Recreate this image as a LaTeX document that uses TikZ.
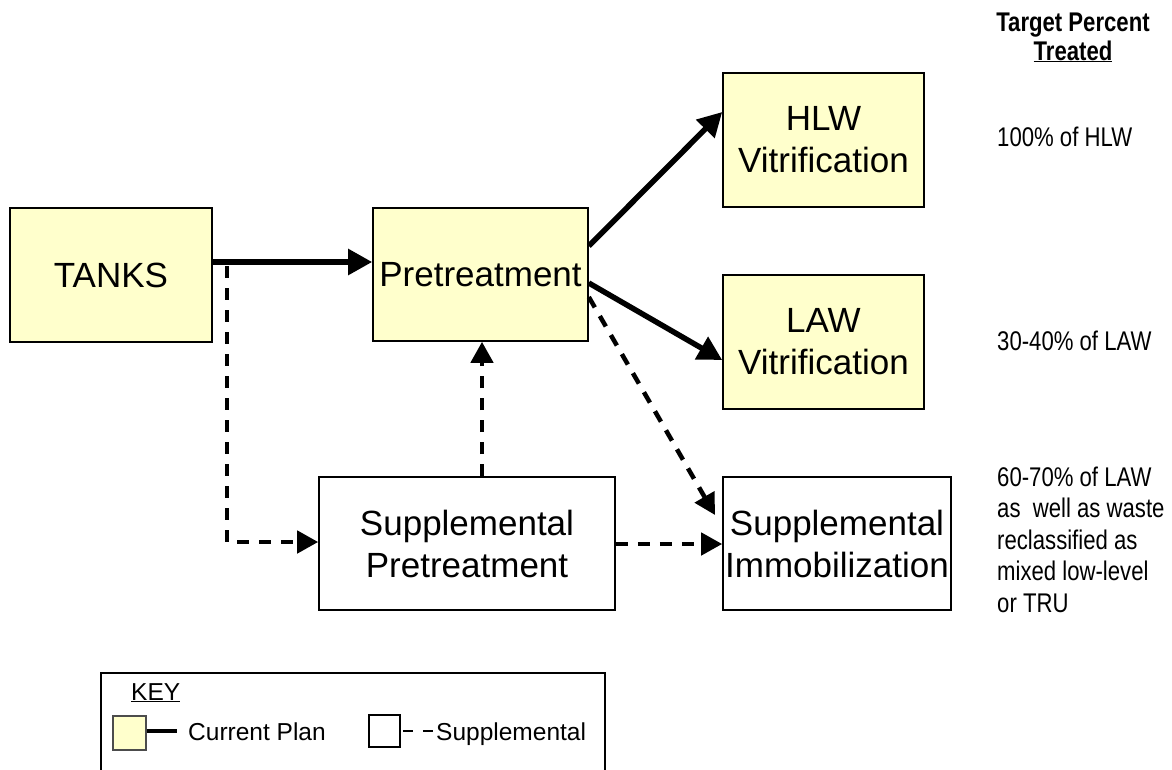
\documentclass[tikz,border=0pt]{standalone}
\usepackage{fontspec}
\setmainfont{Liberation Sans}
\newfontfamily\narrowfont[FakeStretch=0.82]{Liberation Sans}
\usetikzlibrary{arrows.meta}
\definecolor{boxyellow}{RGB}{255,255,204}
\begin{document}
\begin{tikzpicture}[x=1pt,y=-1pt,
  box/.style={draw=black,line width=1.6pt,inner sep=0pt,align=center,font=\fontsize{35}{42}\selectfont},
  planbox/.style={box,fill=boxyellow},
  suppbox/.style={box,fill=white},
  solidarrow/.style={line width=5.5pt,-{Triangle[length=24pt,width=25pt]}},
  dasharrow/.style={line width=4.5pt,dash pattern=on 12pt off 10pt,-{Triangle[length=21pt,width=22pt]}},
  note/.style={anchor=base west,inner sep=0pt,align=left,font=\narrowfont\fontsize{27}{31.5}\selectfont},
  titletext/.style={anchor=base,inner sep=0pt,font=\narrowfont\bfseries\fontsize{27}{31}\selectfont},
  keytext/.style={anchor=base west,inner sep=0pt,font=\fontsize{24.5}{28}\selectfont}
]
\useasboundingbox (0,0) rectangle (1172,769);

% boxes
\node[planbox,minimum width=202pt,minimum height=134pt] (tanks) at (111,275) {TANKS};
\node[planbox,minimum width=215pt,minimum height=133pt] (pre) at (480.5,274.5) {Pretreatment};
\node[planbox,minimum width=201pt,minimum height=134pt] (hlw) at (823.5,140) {HLW\\Vitrification};
\node[planbox,minimum width=201pt,minimum height=134pt] (law) at (823.5,342) {LAW\\Vitrification};
\node[suppbox,minimum width=296pt,minimum height=133pt] (supppre) at (467,543.5) {Supplemental\\Pretreatment};
\node[suppbox,minimum width=228pt,minimum height=133pt] (suppimm) at (837,543.5) {Supplemental\\Immobilization};

% connectors
\coordinate (branch) at (227,266);
\coordinate (immtip) at (715,515);
\draw[solidarrow] (tanks.east |- 0,262) -- (pre.west |- 0,262);
\draw[dasharrow] (branch) -- (227,542) -- (supppre.west |- 0,542);
\draw[solidarrow] (pre.east |- 0,246) -- (hlw.west |- 0,112);
\draw[solidarrow] (pre.east |- 0,283) -- (law.west |- 0,360);
\draw[dasharrow] (pre.east |- 0,297) -- (immtip);
\draw[dasharrow] (supppre.north -| 482,0) -- (pre.south -| 482,0);
\draw[dasharrow] (supppre.east |- 0,544) -- (suppimm.west |- 0,544);

% right-hand notes
\node[titletext] (title1) at (1073,31) {Target Percent};
\node[titletext] (title2) at (1073,60) {\underline{Treated}};
\node[note] (n1) at (997,146) {100\% of HLW};
\node[note] (n2) at (997,350) {30-40\% of LAW};
\node[note] (n3) at (997,612) {60-70\% of LAW\\as\ \ well as waste\\reclassified as\\mixed low-level\\or TRU};

% key
\begin{scope}
\clip (0,0) rectangle (1172,769);
\draw[line width=1.5pt] (101,673) rectangle (605,800);
\end{scope}
\node[keytext] (keytitle) at (131,700) {\underline{KEY}};
\node[draw=black!70,line width=1.2pt,fill=boxyellow,minimum width=33pt,minimum height=34pt,inner sep=0pt] (keyplan) at (129.5,733) {};
\coordinate (keyplanend) at (177,731);
\draw[line width=4.5pt] (keyplan.east |- 0,731) -- (keyplanend);
\node[keytext] (keyplantext) at (188,740) {Current Plan};
\node[draw=black,line width=1.5pt,fill=white,minimum width=31pt,minimum height=32pt,inner sep=0pt] (keysupp) at (384.5,731) {};
\coordinate (keysuppend) at (435,731);
\draw[line width=2.5pt,dash pattern=on 10pt off 10pt] ([xshift=2pt]keysupp.east) -- (keysuppend);
\node[keytext] (keysupptext) at (436,740) {Supplemental};
\end{tikzpicture}
\end{document}
